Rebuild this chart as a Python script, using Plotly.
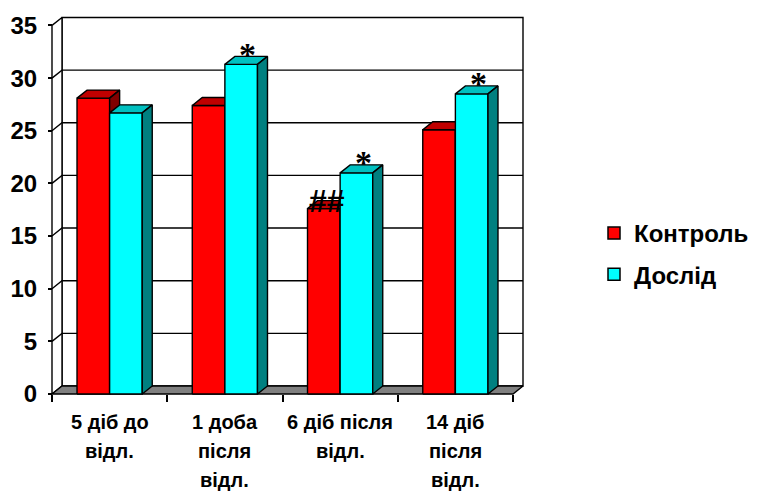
import plotly.graph_objects as go

# ---- data -------------------------------------------------------------
categories = ["5 діб до<br>відл.", "1 доба<br>після<br>відл.",
              "6 діб після<br>відл.", "14 діб<br>після<br>відл."]
series_names = ["Контроль", "Дослід"]
control = [28.1, 27.4, 17.6, 25.1]
experiment = [26.7, 31.3, 21.0, 28.5]
control_marks = ["", "", "##", ""]
experiment_marks = ["", "*", "*", "*"]
y_ticks = [0, 5, 10, 15, 20, 25, 30, 35]
y_max = 35

# ---- colours ----------------------------------------------------------
RED_FRONT, RED_TOP, RED_SIDE = "#FF0000", "#C00000", "#800000"
CYAN_FRONT, CYAN_TOP, CYAN_SIDE = "#00FFFF", "#00C0C0", "#008080"
FLOOR = "#808080"
FONT = "Liberation Sans, Arial, sans-serif"
SERIF = "Liberation Serif, Times New Roman, serif"

# ---- geometry (pixels) ------------------------------------------------
W, H = 758, 491
ML, MR, MT, MB = 50, 234, 16, 95
PX_X = 115.25          # pixels per category
PX_Y = 10.53           # pixels per value unit
OFF_X, OFF_Y = 2, 2    # front axis inset inside the plot area
plot_w, plot_h = W - ML - MR, H - MT - MB
DX, DY = 10 / PX_X, 8 / PX_Y   # depth of the pseudo-3D extrusion
BAR_W = 0.283

x_lo = -0.5 - OFF_X / PX_X
x_hi = x_lo + plot_w / PX_X
y_lo = -OFF_Y / PX_Y
y_hi = y_lo + plot_h / PX_Y
n = len(categories)
x_left, x_right = -0.5, n - 0.5

fig = go.Figure()


def poly(xs, ys, fill, width=1.4):
    fig.add_trace(go.Scatter(
        x=xs, y=ys, mode="lines", fill="toself", fillcolor=fill,
        line=dict(color="black", width=width), hoverinfo="skip",
        showlegend=False))


# walls and floor
poly([x_left + DX, x_right + DX, x_right + DX, x_left + DX, x_left + DX],
     [DY, DY, y_max + DY, y_max + DY, DY], "white")
poly([x_left, x_left + DX, x_left + DX, x_left, x_left],
     [0, DY, y_max + DY, y_max, 0], "white")
poly([x_left, x_right, x_right + DX, x_left + DX, x_left],
     [0, 0, DY, DY, 0], FLOOR)

# gridlines on the back wall, joined to the front axis across the side wall
gx, gy = [], []
for v in y_ticks:
    if 0 < v < y_max:
        gx += [x_left, x_left + DX, x_right + DX, None]
        gy += [v, v + DY, v + DY, None]
fig.add_trace(go.Scatter(x=gx, y=gy, mode="lines",
                         line=dict(color="black", width=1.4),
                         hoverinfo="skip", showlegend=False))


def prism(values, offset, front, top, side):
    fx, fy, tx, ty, sx, sy = [], [], [], [], [], []
    for i, v in enumerate(values):
        x0 = i + offset
        x1 = x0 + BAR_W
        fx += [x0, x1, x1, x0, x0, None]
        fy += [0, 0, v, v, 0, None]
        tx += [x0, x1, x1 + DX, x0 + DX, x0, None]
        ty += [v, v, v + DY, v + DY, v, None]
        sx += [x1, x1 + DX, x1 + DX, x1, x1, None]
        sy += [0, DY, v + DY, v, 0, None]
    poly(fx, fy, front)
    poly(tx, ty, top)
    poly(sx, sy, side)


prism(control, -BAR_W, RED_FRONT, RED_TOP, RED_SIDE)
prism(experiment, 0.0, CYAN_FRONT, CYAN_TOP, CYAN_SIDE)

# legend entries
for name, col, grp in [(series_names[0], RED_FRONT, "a"),
                       (series_names[1], CYAN_FRONT, "b")]:
    fig.add_trace(go.Bar(x=[None], y=[None], name=name, legendgroup=grp,
                         marker=dict(color=col,
                                     line=dict(color="black", width=1.5))))

annotations = []
# significance marks
for i, m in enumerate(control_marks):
    if m:
        annotations.append(dict(
            x=i - BAR_W / 2 + 0.03, y=control[i], xref="x", yref="y",
            text=m, showarrow=False, yanchor="middle", yshift=8,
            font=dict(family=FONT, size=32, color="black", weight="bold")))
for i, m in enumerate(experiment_marks):
    if m:
        annotations.append(dict(
            x=i + BAR_W / 2 + DX / 2 + 0.015, y=experiment[i],
            xref="x", yref="y", text=m, showarrow=False,
            yanchor="middle", yshift=10,
            font=dict(family=SERIF, size=34, color="black", weight="bold")))

# category labels, one annotation per line
for i, cat in enumerate(categories):
    for j, line in enumerate(cat.split("<br>")):
        annotations.append(dict(
            x=i, y=0, xref="x", yref="y", text=line, showarrow=False,
            yanchor="middle", yshift=-(27.5 + 29 * j),
            font=dict(family=FONT, size=20, color="black", weight="bold")))

fig.update_layout(
    width=W, height=H,
    margin=dict(l=ML, r=MR, t=MT, b=MB, pad=0, autoexpand=False),
    paper_bgcolor="white", plot_bgcolor="white",
    barmode="overlay",
    showlegend=True,
    legend=dict(x=(594 - ML) / plot_w, xanchor="left",
                y=(H - MB - 254) / plot_h, yanchor="middle",
                xref="paper", yref="paper",
                traceorder="grouped", tracegroupgap=7,
                font=dict(family=FONT, size=24, color="black", weight="bold"),
                bgcolor="rgba(0,0,0,0)", borderwidth=0),
    xaxis=dict(range=[x_lo, x_hi], showgrid=False, zeroline=False,
               showline=False, tickmode="array", tickvals=[],
               showticklabels=False, anchor="free",
               position=OFF_Y / plot_h,
               minor=dict(tickmode="array",
                          tickvals=[k - 0.5 for k in range(n + 1)],
                          ticks="outside", ticklen=7, tickwidth=1.5,
                          tickcolor="black", showgrid=False)),
    yaxis=dict(range=[y_lo, y_hi], showgrid=False, zeroline=False,
               showline=False, tickmode="array", tickvals=y_ticks,
               ticks="outside", ticklen=4, tickwidth=1.5, tickcolor="black",
               ticklabelstandoff=6, anchor="free", position=OFF_X / plot_w,
               tickfont=dict(family=FONT, size=24, color="black",
                             weight="bold")),
    annotations=annotations,
)

fig.write_html("out.html")
